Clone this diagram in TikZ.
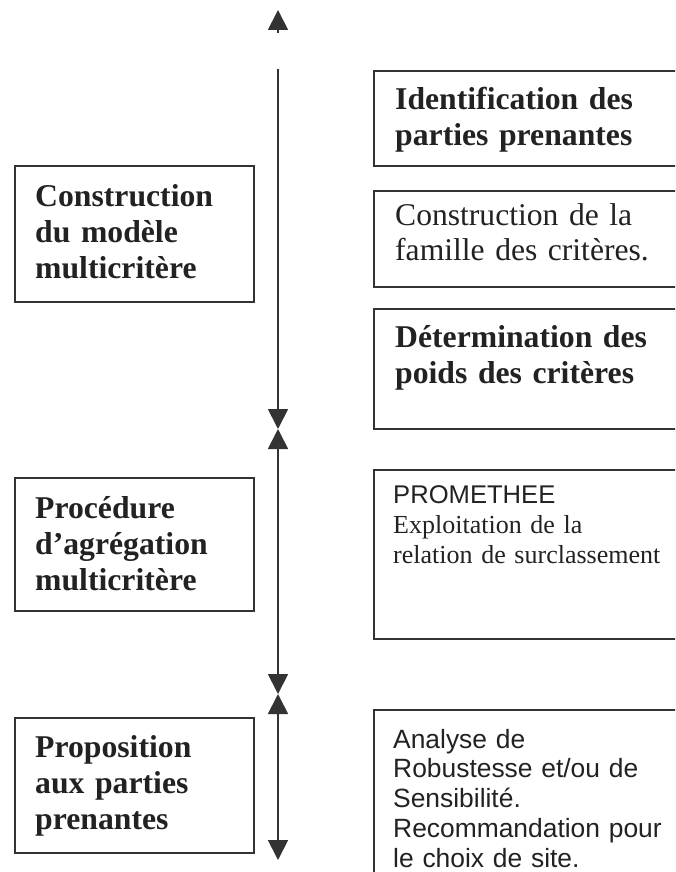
\documentclass[tikz,border=0pt]{standalone}
\usepackage{fontspec}
\setmainfont{Liberation Serif}
\newfontfamily\arialfont{Liberation Sans}
\usetikzlibrary{arrows.meta}
\definecolor{ink}{HTML}{333333}
\definecolor{txt}{HTML}{222222}
\begin{document}
\begin{tikzpicture}[x=1pt,y=-1pt,
  box/.style={draw=ink, line width=1.8pt, inner sep=0pt, anchor=north west},
  lbox/.style={box, minimum width=239pt},
  rbox/.style={box, minimum width=330pt},
  btxt/.style={anchor=base west, inner sep=0pt, text width=#1, align=left, text=txt,
    font=\fontsize{31.7}{36}\selectfont\bfseries},
  rtxt/.style={anchor=base west, inner sep=0pt, text width=#1, align=left, text=txt,
    font=\fontsize{31.6}{35}\selectfont},
  stxt/.style={anchor=base west, inner sep=0pt, text width=#1, align=left, text=txt,
    font=\fontsize{26}{30}\selectfont},
  ftxt/.style={anchor=base west, inner sep=0pt, text width=#1, align=left, text=txt,
    font=\arialfont\fontsize{26.4}{29.8}\selectfont},
  axis/.style={draw=ink, line width=1.8pt},
  tip/.style={Triangle[length=20pt,width=20pt]}
]
\useasboundingbox (0,0) rectangle (675,872);
\fill[white] (0,0) rectangle (675,872);
\begin{scope}
\clip (0,0) rectangle (675,872);

% left boxes
\node[lbox, minimum height=136pt] (L1) at (14,165) {};
\node[lbox, minimum height=133pt] (L2) at (14,477) {};
\node[lbox, minimum height=135pt] (L3) at (14,717) {};

% right boxes (cut off by the page edge)
\node[rbox, minimum height=95pt] (RA) at (373,70) {};
\node[rbox, minimum height=96pt] (RB) at (373,190) {};
\node[rbox, minimum height=120pt] (RC) at (373,308) {};
\node[rbox, minimum height=169pt] (RD) at (373,469) {};
\node[rbox, minimum height=191pt] (RE) at (373,709) {};

% texts
\node[btxt=230pt] (tL1) at (35,206) {Construction\\du modèle\\multicritère};
\node[btxt=230pt] (tL2) at (35,518) {Procédure\\d’agrégation\\multicritère};
\node[btxt=230pt] (tL3) at (35,757) {Proposition\\aux parties\\prenantes};

\node[btxt=300pt] (tRA) at (395,110) {Identification des\\parties prenantes};
\node[rtxt=300pt] (tRB) at (395,225) {Construction de la\\famille des critères.};
\node[btxt=300pt] (tRC) at (395,347) {Détermination des\\poids des critères};
\node[stxt=300pt] (tRD) at (393,503) {{\arialfont\fontsize{25.6}{30}\selectfont PROMETHEE}\\Exploitation de la\\relation de surclassement};
\node[ftxt=300pt] (tRE) at (393,748) {Analyse de\\Robustesse et/ou de\\Sensibilité.\\Recommandation pour\\le choix de site.};

% vertical axis
\coordinate (a0) at (278,33);
\coordinate (a1) at (278,10);
\coordinate (a2) at (278,69);
\coordinate (a3) at (278,429);
\coordinate (a4) at (278,694);
\coordinate (a5) at (278,860);
\draw[axis, -{Triangle[length=20pt,width=20pt]}, fill=ink] (a0) -- (a1);
\draw[axis, -{Triangle[length=20pt,width=20pt]}] (a2) -- (a3);
\draw[axis, {Triangle[length=20pt,width=20pt]}-{Triangle[length=20pt,width=20pt]}] (a3) -- (a4);
\draw[axis, {Triangle[length=20pt,width=20pt]}-{Triangle[length=20pt,width=20pt]}] (a4) -- (a5);
\end{scope}
\end{tikzpicture}
\end{document}
